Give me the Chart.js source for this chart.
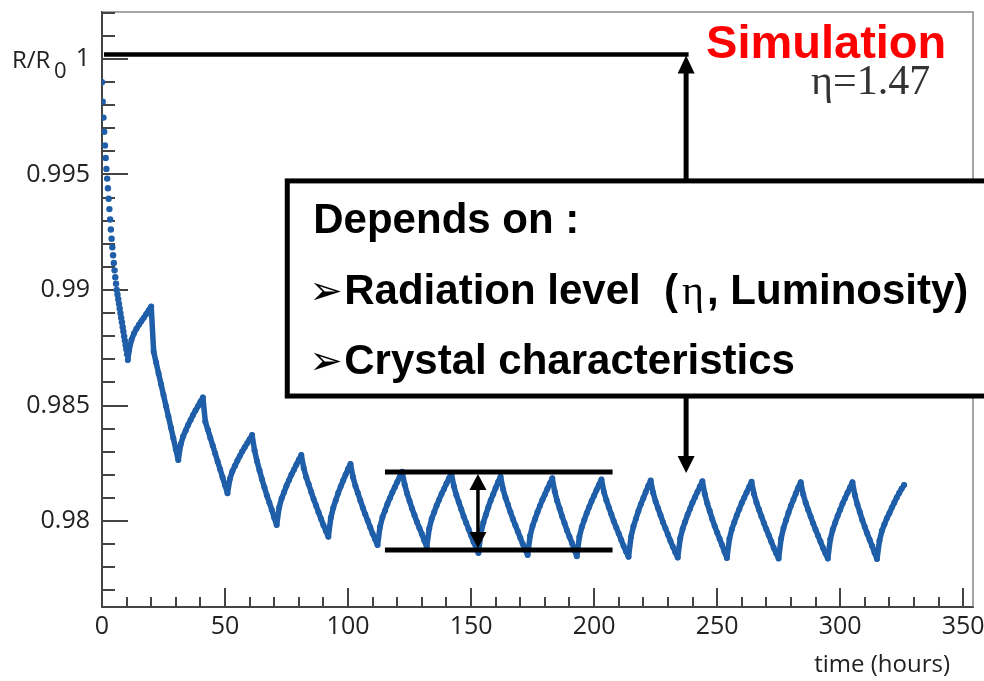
<!DOCTYPE html>
<html>
<head>
<meta charset="utf-8">
<title>R/R0 vs time</title>
<script src="https://cdn.jsdelivr.net/npm/chart.js"></script>
<style>
  html, body { margin: 0; padding: 0; background: #fff; }
  #wrap { width: 984px; height: 681px; }
</style>
</head>
<body>
<div id="wrap"><canvas id="ratioChart" width="984" height="681"></canvas></div>
<script>
// first hours: single dots
const earlyHours = [0, 0.3, 0.6, 0.9, 1.2, 1.5, 1.8, 2.1, 2.4, 2.7, 3.0, 3.3, 3.6, 3.9, 4.2, 4.5, 4.8, 5.1,
  5.4, 5.7, 6.0, 6.3, 6.6, 6.9, 7.2, 7.5, 7.8, 8.1, 8.4, 8.7, 9.0, 9.3, 9.6, 9.9, 10.2];
const earlyRatio = [0.99899, 0.99815, 0.99746, 0.99685, 0.99625, 0.99571, 0.99524, 0.99482, 0.99440,
  0.99395, 0.99350, 0.99305, 0.99262, 0.99222, 0.99185, 0.99150, 0.99117, 0.99085, 0.99055, 0.99027,
  0.99000, 0.98980, 0.98960, 0.98940, 0.98920, 0.98900, 0.98880, 0.98860, 0.98840, 0.98820, 0.98800,
  0.98781, 0.98762, 0.98743, 0.98722];

// rest of the run (hours)
const hours = [10.5,
  11, 12, 13, 14, 15, 16, 17, 18, 19, 20,
  21, 22, 23, 24, 25, 26, 27, 28, 29, 30,
  31, 32, 33, 34, 35, 36, 37, 38, 39, 40,
  41, 42, 43, 44, 45, 46, 47, 48, 49, 50,
  51, 52, 53, 54, 55, 56, 57, 58, 59, 60,
  61, 62, 63, 64, 65, 66, 67, 68, 69, 70,
  71, 72, 73, 74, 75, 76, 77, 78, 79, 80,
  81, 82, 83, 84, 85, 86, 87, 88, 89, 90,
  91, 92, 93, 94, 95, 96, 97, 98, 99, 100,
  101, 102, 103, 104, 105, 106, 107, 108, 109, 110,
  111, 112, 113, 114, 115, 116, 117, 118, 119, 120,
  121, 122, 123, 124, 125, 126, 127, 128, 129, 130,
  131, 132, 133, 134, 135, 136, 137, 138, 139, 140,
  141, 142, 143, 144, 145, 146, 147, 148, 149, 150,
  151, 152, 153, 154, 155, 156, 157, 158, 159, 160,
  161, 162, 163, 164, 165, 166, 167, 168, 169, 170,
  171, 172, 173, 174, 175, 176, 177, 178, 179, 180,
  181, 182, 183, 184, 185, 186, 187, 188, 189, 190,
  191, 192, 193, 194, 195, 196, 197, 198, 199, 200,
  201, 202, 203, 204, 205, 206, 207, 208, 209, 210,
  211, 212, 213, 214, 215, 216, 217, 218, 219, 220,
  221, 222, 223, 224, 225, 226, 227, 228, 229, 230,
  231, 232, 233, 234, 235, 236, 237, 238, 239, 240,
  241, 242, 243, 244, 245, 246, 247, 248, 249, 250,
  251, 252, 253, 254, 255, 256, 257, 258, 259, 260,
  261, 262, 263, 264, 265, 266, 267, 268, 269, 270,
  271, 272, 273, 274, 275, 276, 277, 278, 279, 280,
  281, 282, 283, 284, 285, 286, 287, 288, 289, 290,
  291, 292, 293, 294, 295, 296, 297, 298, 299, 300,
  301, 302, 303, 304, 305, 306, 307, 308, 309, 310,
  311, 312, 313, 314, 315, 316, 317, 318, 319, 320,
  321, 322, 323, 324, 325, 326];

const ratio = [0.98697,
  0.98738, 0.98785, 0.98812, 0.98832, 0.98849, 0.98865, 0.98880, 0.98896, 0.98912, 0.98928,
  0.98733, 0.98686, 0.98639, 0.98592, 0.98545, 0.98498, 0.98452, 0.98405, 0.98358, 0.98311, 0.98264,
  0.98332, 0.98367, 0.98391, 0.98416, 0.98437, 0.98459, 0.98478, 0.98497, 0.98516, 0.98535,
  0.98430, 0.98396, 0.98361, 0.98327, 0.98292, 0.98258, 0.98224, 0.98189, 0.98155, 0.98120,
  0.98183, 0.98216, 0.98238, 0.98261, 0.98281, 0.98301, 0.98319, 0.98337, 0.98354, 0.98372,
  0.98306, 0.98259, 0.98220, 0.98181, 0.98146, 0.98111, 0.98080, 0.98049, 0.98014, 0.97983,
  0.98059, 0.98098, 0.98125, 0.98153, 0.98177, 0.98201, 0.98222, 0.98244, 0.98265, 0.98286,
  0.98229, 0.98190, 0.98159, 0.98127, 0.98095, 0.98067, 0.98038, 0.98010, 0.97982, 0.97957, 0.97932,
  0.98014, 0.98058, 0.98090, 0.98121, 0.98149, 0.98175, 0.98200, 0.98225, 0.98247,
  0.98191, 0.98152, 0.98121, 0.98089, 0.98058, 0.98029, 0.98001, 0.97973, 0.97945, 0.97921, 0.97896,
  0.97975, 0.98017, 0.98045, 0.98074, 0.98099, 0.98124, 0.98146, 0.98169, 0.98191, 0.98213,
  0.98158, 0.98119, 0.98087, 0.98054, 0.98025, 0.97996, 0.97970, 0.97944, 0.97915, 0.97889,
  0.97968, 0.98010, 0.98038, 0.98067, 0.98092, 0.98117, 0.98139, 0.98162, 0.98184, 0.98206,
  0.98151, 0.98113, 0.98082, 0.98051, 0.98020, 0.97993, 0.97965, 0.97938, 0.97910, 0.97886, 0.97862,
  0.97948, 0.97994, 0.98027, 0.98060, 0.98090, 0.98116, 0.98143, 0.98169, 0.98192,
  0.98138, 0.98101, 0.98070, 0.98039, 0.98009, 0.97982, 0.97955, 0.97928, 0.97901, 0.97877, 0.97853,
  0.97936, 0.97979, 0.98009, 0.98039, 0.98066, 0.98092, 0.98115, 0.98139, 0.98162, 0.98185,
  0.98128, 0.98087, 0.98054, 0.98020, 0.97990, 0.97959, 0.97932, 0.97905, 0.97875, 0.97848,
  0.97931, 0.97974, 0.98004, 0.98034, 0.98061, 0.98087, 0.98110, 0.98134, 0.98157, 0.98180,
  0.98126, 0.98090, 0.98059, 0.98029, 0.97999, 0.97972, 0.97946, 0.97919, 0.97892, 0.97868, 0.97845,
  0.97931, 0.97977, 0.98010, 0.98043, 0.98073, 0.98099, 0.98126, 0.98152, 0.98175,
  0.98122, 0.98085, 0.98055, 0.98025, 0.97995, 0.97969, 0.97942, 0.97915, 0.97889, 0.97865, 0.97842,
  0.97925, 0.97967, 0.97997, 0.98027, 0.98053, 0.98080, 0.98103, 0.98126, 0.98149, 0.98172,
  0.98116, 0.98076, 0.98043, 0.98009, 0.97979, 0.97950, 0.97923, 0.97896, 0.97867, 0.97840,
  0.97923, 0.97965, 0.97995, 0.98025, 0.98051, 0.98078, 0.98101, 0.98124, 0.98147, 0.98170,
  0.98117, 0.98080, 0.98050, 0.98021, 0.97991, 0.97964, 0.97938, 0.97911, 0.97884, 0.97861, 0.97838,
  0.97924, 0.97970, 0.98003, 0.98036, 0.98066, 0.98092, 0.98119, 0.98145, 0.98168,
  0.98115, 0.98079, 0.98049, 0.98020, 0.97990, 0.97963, 0.97937, 0.97911, 0.97884, 0.97861, 0.97838,
  0.97921, 0.97963, 0.97993, 0.98023, 0.98049, 0.98076, 0.98099, 0.98122, 0.98145, 0.98168,
  0.98112, 0.98072, 0.98039, 0.98005, 0.97975, 0.97946, 0.97919, 0.97892, 0.97863, 0.97836,
  0.97916, 0.97958, 0.97986, 0.98012, 0.98034, 0.98057, 0.98079, 0.98102, 0.98121, 0.98140, 0.98156];

const xTickValues = [0, 50, 100, 150, 200, 250, 300, 350];
const xTickLabels = ['0', '50', '100', '150', '200', '250', '300', '350'];
const yTickValues = [0.98, 0.985, 0.99, 0.995, 1];
const yTickLabels = ['0.98', '0.985', '0.99', '0.995', '1'];

const BLUE = '#1f5ea8';
const AXIS = '#444';
const TICK_FONT = { family: 'Open Sans', size: 25 };

// annotation anchors, in data units (hours, R/R0)
const arrowT = 237.4;          // vertical arrow through the box
const topLineV = 1.00019;      // thick line at R/R0 = 1
const boxT = [75.3, 362];
const boxV = [0.99472, 0.98541];
const downTipV = 0.98208;
const bandT = [115, 207.5];
const bandV = [0.98212, 0.97875];
const bandArrowT = 152.8;

// ROOT style: ticks pointing into the frame, frame closed in grey
const frameTicks = {
  id: 'frameTicks',
  beforeDatasetsDraw(chart) {
    const { ctx, chartArea: a, scales: { x, y } } = chart;
    ctx.save();
    ctx.strokeStyle = '#888';
    ctx.lineWidth = 1.5;
    ctx.beginPath();
    ctx.moveTo(a.left, a.top);
    ctx.lineTo(a.right, a.top);
    ctx.lineTo(a.right, a.bottom);
    ctx.stroke();

    ctx.strokeStyle = AXIS;
    ctx.lineWidth = 2;
    ctx.beginPath();
    for (let k = 977; k <= 1002; k++) {
      const py = Math.round(y.getPixelForValue(k / 1000));
      const len = k % 5 === 0 ? 26 : 13;
      ctx.moveTo(a.left, py);
      ctx.lineTo(a.left + len, py);
    }
    for (let h = 0; h <= 350; h += 10) {
      const px = Math.round(x.getPixelForValue(h));
      const len = h % 50 === 0 ? 19 : 10;
      ctx.moveTo(px, a.bottom);
      ctx.lineTo(px, a.bottom - len);
    }
    ctx.stroke();
    ctx.restore();
  },
  afterDraw(chart) {
    const { ctx } = chart;
    ctx.save();
    ctx.fillStyle = '#222';
    ctx.textBaseline = 'alphabetic';
    ctx.font = '24px "Open Sans"';
    ctx.textAlign = 'left';
    ctx.fillText('R/R', 12, 68);
    ctx.font = '22px "Open Sans"';
    ctx.fillText('0', 54, 78);
    ctx.font = '24px "Open Sans"';
    ctx.textAlign = 'right';
    ctx.fillText('time (hours)', 950, 672);
    ctx.restore();
  }
};

function arrowHead(ctx, x, tipY, dir, len, half) {
  // dir = -1 points up, +1 points down
  ctx.beginPath();
  ctx.moveTo(x, tipY);
  ctx.lineTo(x - half, tipY - dir * len);
  ctx.lineTo(x + half, tipY - dir * len);
  ctx.closePath();
  ctx.fill();
}

const notes = {
  id: 'notes',
  afterDraw(chart) {
    const { ctx, scales: { x, y } } = chart;
    const X = t => x.getPixelForValue(t);
    const Y = v => y.getPixelForValue(v);
    ctx.save();
    ctx.strokeStyle = '#000';
    ctx.fillStyle = '#000';

    const ax = X(arrowT);
    const boxTop = Y(boxV[0]);
    const boxBot = Y(boxV[1]);

    // line at 1 and arrow up to it
    ctx.lineWidth = 4.5;
    ctx.beginPath();
    ctx.moveTo(X(0.8), Y(topLineV));
    ctx.lineTo(ax + 2.5, Y(topLineV));
    ctx.stroke();
    ctx.lineWidth = 5;
    ctx.beginPath();
    ctx.moveTo(ax, boxTop);
    ctx.lineTo(ax, Y(topLineV) + 10);
    ctx.stroke();
    arrowHead(ctx, ax, Y(topLineV) + 1, -1, 18, 8.5);

    // arrow down from the box
    ctx.beginPath();
    ctx.moveTo(ax, boxBot);
    ctx.lineTo(ax, Y(downTipV) - 10);
    ctx.stroke();
    arrowHead(ctx, ax, Y(downTipV), 1, 17, 8.5);

    // text box
    const bx0 = X(boxT[0]), bx1 = X(boxT[1]);
    ctx.fillStyle = '#fff';
    ctx.fillRect(bx0, boxTop, bx1 - bx0, boxBot - boxTop);
    ctx.strokeRect(bx0, boxTop, bx1 - bx0, boxBot - boxTop);

    ctx.fillStyle = '#000';
    ctx.textAlign = 'left';
    ctx.textBaseline = 'alphabetic';
    const bold = 'bold 42px "Liberation Sans"';
    ctx.font = bold;
    ctx.fillText('Depends on :', bx0 + 26, boxTop + 52);

    const bullet = (tx, ty) => {
      ctx.font = '40px "DejaVu Sans"';
      ctx.fillText('\u27A2', tx, ty);
    };
    let lx = bx0 + 22, ly = boxTop + 123;
    bullet(lx, ly);
    lx += 35;
    ctx.font = bold;
    ctx.fillText('Radiation level  (', lx, ly);
    lx += ctx.measureText('Radiation level  (').width + 4;
    ctx.font = '42px "Liberation Serif"';
    ctx.fillText('\u03B7', lx, ly);
    lx += ctx.measureText('\u03B7').width + 3;
    ctx.font = bold;
    ctx.fillText(', Luminosity)', lx, ly);

    lx = bx0 + 22; ly = boxTop + 193;
    bullet(lx, ly);
    ctx.font = bold;
    ctx.fillText('Crystal characteristics', lx + 35, ly);

    // amplitude band
    ctx.lineWidth = 5;
    ctx.beginPath();
    ctx.moveTo(X(bandT[0]), Y(bandV[0]));
    ctx.lineTo(X(bandT[1]), Y(bandV[0]));
    ctx.moveTo(X(bandT[0]), Y(bandV[1]));
    ctx.lineTo(X(bandT[1]), Y(bandV[1]));
    ctx.stroke();
    const bxA = X(bandArrowT);
    ctx.lineWidth = 3.5;
    ctx.beginPath();
    ctx.moveTo(bxA, Y(bandV[0]) + 12);
    ctx.lineTo(bxA, Y(bandV[1]) - 12);
    ctx.stroke();
    arrowHead(ctx, bxA, Y(bandV[0]) + 2, -1, 16, 8.5);
    arrowHead(ctx, bxA, Y(bandV[1]) - 2, 1, 16, 8.5);

    // labels top right
    ctx.fillStyle = '#ff0000';
    ctx.font = 'bold 47px "Liberation Sans"';
    ctx.fillText('Simulation', X(245.5), Y(1.00004));
    ctx.fillStyle = '#333';
    ctx.font = '42px "Liberation Serif"';
    ctx.fillText('\u03B7=1.47', X(288.2), Y(0.99848));
    ctx.restore();
  }
};

const ctx = document.getElementById('ratioChart').getContext('2d');
const chart = new Chart(ctx, {
  type: 'scatter',
  data: {
    datasets: [{
      data: earlyHours.map((h, i) => ({ x: h, y: earlyRatio[i] })),
      showLine: false,
      pointRadius: 3.2,
      pointBorderWidth: 0,
      pointBackgroundColor: BLUE
    }, {
      data: hours.map((h, i) => ({ x: h, y: ratio[i] })),
      showLine: true,
      borderColor: BLUE,
      borderWidth: 5.5,
      borderJoinStyle: 'round',
      borderCapStyle: 'round',
      pointRadius: 3,
      pointBorderWidth: 0,
      pointBackgroundColor: BLUE
    }]
  },
  options: {
    responsive: false,
    animation: false,
    devicePixelRatio: 1,
    layout: { padding: { top: 12, right: 11, left: 0, bottom: 0 } },
    plugins: { legend: { display: false }, tooltip: { enabled: false } },
    scales: {
      x: {
        type: 'linear',
        min: 0,
        max: 354,
        afterFit(scale) {
          scale.height = 74;
          scale.paddingLeft = 0;
          scale.paddingRight = 0;
        },
        afterBuildTicks(scale) { scale.ticks = xTickValues.map(v => ({ value: v })); },
        grid: { display: false, drawTicks: false },
        border: { display: true, color: AXIS, width: 2 },
        ticks: {
          autoSkip: false,
          maxRotation: 0,
          padding: 5,
          color: '#222',
          font: TICK_FONT,
          callback: (v, i) => xTickLabels[i]
        }
      },
      y: {
        type: 'linear',
        min: 0.97628,
        max: 1.00203,
        afterFit(scale) {
          scale.width = 102;
          scale.paddingTop = 0;
          scale.paddingBottom = 0;
        },
        afterBuildTicks(scale) { scale.ticks = yTickValues.map(v => ({ value: v })); },
        grid: { display: false, drawTicks: false },
        border: { display: true, color: AXIS, width: 2 },
        ticks: {
          padding: 12,
          color: '#222',
          font: TICK_FONT,
          callback: (v, i) => yTickLabels[i]
        }
      }
    }
  },
  plugins: [frameTicks, notes]
});
</script>
</body>
</html>
